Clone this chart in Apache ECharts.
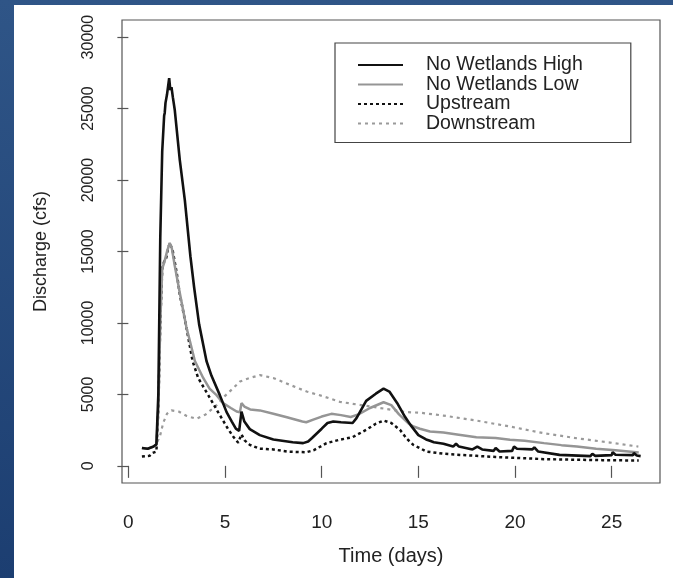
<!DOCTYPE html>
<html>
<head>
<meta charset="utf-8">
<script src="https://cdn.jsdelivr.net/npm/echarts@6/dist/echarts.min.js"></script>
<style>
    html, body {
        margin: 0;
        padding: 0;
        width: 673px;
        height: 578px;
        overflow: hidden;
        background: linear-gradient(180deg, #2f5587 0%, #1c3e71 100%);
    }
    .paper {
        position: absolute;
        left: 14px;
        top: 5px;
        right: 0;
        bottom: 0;
        background: #ffffff;
    }
    #chart {
        position: absolute;
        left: 0;
        top: 0;
        width: 673px;
        height: 578px;
    }
</style>
</head>
<body>
<div class="paper"></div>
<div id="chart"></div>
<script>
// No Wetlands High
var highX = [0.7, 1.0, 1.3, 1.45, 1.55, 1.65, 1.75, 1.85, 1.88, 1.92, 2.0, 2.11, 2.17, 2.23, 2.3, 2.4, 2.66, 2.92, 3.21, 3.4, 3.66, 4.04, 4.3, 4.73, 5.08, 5.35, 5.56, 5.73, 5.85, 6.0, 6.28, 6.8, 7.5, 8.5, 9.04, 9.3, 9.5, 10.0, 10.3, 10.6, 11.0, 11.6, 11.8, 12.3, 12.8, 13.2, 13.5, 13.9, 14.3, 14.6, 15.0, 15.4, 15.6, 15.7, 15.8, 16.3, 16.8, 16.95, 17.1, 17.8, 18.05, 18.3, 18.9, 19.0, 19.2, 19.85, 19.95, 20.1, 20.9, 21.0, 21.2, 22.3, 23.9, 24.0, 24.15, 25.0, 25.05, 25.2, 26.1, 26.15, 26.3, 26.5];
var highY = [1250, 1200, 1350, 1500, 5000, 16000, 22000, 24500, 24700, 25400, 26000, 27130, 26300, 26500, 25800, 24900, 21400, 18600, 14650, 12500, 9900, 7340, 6300, 4950, 3760, 3100, 2600, 2450, 3800, 3100, 2570, 2150, 1850, 1650, 1590, 1700, 1950, 2600, 3000, 3100, 3050, 3000, 3340, 4550, 5050, 5400, 5200, 4400, 3450, 2850, 2150, 1850, 1750, 1850, 1650, 1550, 1350, 1550, 1350, 1150, 1350, 1150, 1050, 1250, 1000, 1050, 1350, 1200, 1150, 1300, 1000, 770, 680, 850, 700, 750, 950, 780, 750, 900, 720, 680];

// No Wetlands Low
var lowX = [0.7, 1.0, 1.3, 1.45, 1.55, 1.65, 1.75, 1.85, 1.92, 2.0, 2.14, 2.25, 2.4, 2.66, 3.0, 3.44, 3.87, 4.2, 4.56, 4.9, 5.3, 5.6, 5.77, 5.85, 6.0, 6.3, 6.8, 7.5, 8.2, 9.0, 9.2, 9.6, 10.0, 10.5, 11.0, 11.5, 11.9, 12.5, 13.2, 13.6, 14.0, 14.5, 14.75, 15.08, 15.6, 16.3, 17.0, 18.0, 19.0, 19.74, 20.5, 21.5, 22.4, 23.2, 24.2, 25.2, 26.4];
var lowY = [1250, 1200, 1350, 1500, 4000, 10000, 13800, 14200, 14200, 15000, 15600, 15200, 14000, 12100, 9720, 7340, 6150, 5400, 4950, 4390, 4050, 3800, 3750, 4390, 4150, 3950, 3880, 3650, 3400, 3100, 3050, 3250, 3450, 3640, 3550, 3420, 3600, 4050, 4450, 4250, 3600, 2950, 2750, 2600, 2400, 2330, 2200, 2000, 1950, 1820, 1750, 1590, 1450, 1350, 1200, 1100, 930];

// Upstream
var upX = [0.7, 1.1, 1.25, 1.45, 1.55, 1.65, 1.75, 1.85, 1.95, 2.05, 2.15, 2.3, 2.5, 2.66, 3.0, 3.32, 3.61, 4.13, 4.64, 5.16, 5.45, 5.68, 5.75, 5.85, 6.0, 6.28, 6.8, 7.5, 8.2, 9.2, 9.6, 10.25, 10.9, 11.6, 12.3, 12.8, 13.2, 13.6, 14.05, 14.4, 14.74, 15.08, 15.42, 16.3, 17.0, 18.0, 19.0, 20.0, 21.5, 23.0, 24.5, 26.4];
var upY = [650, 700, 900, 1000, 4000, 10000, 13800, 14300, 14500, 15200, 15600, 15000, 13500, 12000, 9700, 7340, 6150, 4950, 3760, 2570, 2000, 1620, 1550, 2210, 1800, 1470, 1200, 1150, 1000, 950, 1100, 1590, 1820, 2010, 2520, 2950, 3170, 3000, 2520, 1900, 1470, 1240, 1000, 850, 780, 700, 620, 560, 470, 430, 400, 370];

// Downstream
var downX = [1.5, 1.63, 1.8, 2.0, 2.23, 2.6, 3.0, 3.52, 4.0, 4.56, 5.0, 5.42, 5.77, 6.28, 6.8, 7.49, 8.3, 9.22, 10.0, 10.94, 12.67, 14.39, 15.08, 16.29, 18.0, 19.74, 21.47, 23.2, 24.92, 26.38];
var downY = [1700, 2050, 3000, 3650, 3880, 3800, 3500, 3290, 3600, 4240, 4900, 5430, 5900, 6150, 6350, 6150, 5700, 5200, 4900, 4480, 4120, 3760, 3720, 3520, 3170, 2750, 2290, 1930, 1630, 1350];

var xTicks = [0, 5, 10, 15, 20, 25];
var yTicks = [0, 5000, 10000, 15000, 20000, 25000, 30000];
var seriesNames = ["No Wetlands High", "No Wetlands Low", "Upstream", "Downstream"];

function pairs(xs, ys) {
    return xs.map(function(x, i) {
        return [x, ys[i]];
    });
}

var myChart = echarts.init(document.getElementById("chart"));
var font = "Liberation Sans, Arial, sans-serif";

var option = {
    backgroundColor: "transparent",
    animation: false,
    textStyle: { fontFamily: font, color: "#222" },
    grid: {
        show: true,
        left: 122,
        top: 20,
        right: 13,
        bottom: 95,
        borderColor: "#555",
        borderWidth: 1.2,
        backgroundColor: "transparent"
    },
    legend: {
        orient: "vertical",
        left: 335,
        top: 43,
        padding: [12, 48, 9, 22],
        borderColor: "#444",
        borderWidth: 1.2,
        itemWidth: 45,
        itemHeight: 12,
        itemGap: -0.5,
        data: seriesNames,
        itemStyle: { opacity: 0 },
        textStyle: {
            fontFamily: font,
            fontSize: 19.5,
            lineHeight: 18,
            color: "#222",
            padding: [0, 0, 0, 18]
        }
    },
    xAxis: {
        type: "value",
        min: -0.33,
        max: 27.5,
        name: "Time (days)",
        nameLocation: "middle",
        nameGap: 63,
        nameTextStyle: { fontFamily: font, fontSize: 20, color: "#222" },
        splitLine: { show: false },
        axisLine: { show: false },
        axisTick: {
            show: true,
            length: 12,
            customValues: xTicks,
            lineStyle: { color: "#555", width: 1.2 }
        },
        axisLabel: {
            customValues: xTicks,
            margin: 30,
            fontSize: 19,
            color: "#222",
            fontFamily: font
        }
    },
    yAxis: {
        type: "value",
        min: -1200,
        max: 31200,
        name: "Discharge (cfs)",
        nameLocation: "middle",
        nameRotate: 90,
        nameGap: 72,
        nameTextStyle: { fontFamily: font, fontSize: 18, color: "#222" },
        splitLine: { show: false },
        axisLine: { show: false },
        axisTick: {
            show: true,
            length: 11,
            customValues: yTicks,
            lineStyle: { color: "#555", width: 1.2 }
        },
        axisLabel: {
            customValues: yTicks,
            rotate: 90,
            margin: 25,
            fontSize: 16,
            color: "#222",
            fontFamily: font,
            formatter: function(value) {
                return String(value);
            }
        }
    },
    series: [
        {
            name: "Downstream",
            type: "line",
            symbol: "none",
            data: pairs(downX, downY),
            lineStyle: { color: "#9a9a9a", width: 2.2, type: [3, 4] },
            itemStyle: { color: "#9a9a9a" }
        },
        {
            name: "Upstream",
            type: "line",
            symbol: "none",
            data: pairs(upX, upY),
            lineStyle: { color: "#111", width: 2.5, type: [3, 3] },
            itemStyle: { color: "#111" }
        },
        {
            name: "No Wetlands Low",
            type: "line",
            symbol: "none",
            data: pairs(lowX, lowY),
            lineStyle: { color: "#959595", width: 2.5 },
            itemStyle: { color: "#959595" }
        },
        {
            name: "No Wetlands High",
            type: "line",
            symbol: "none",
            data: pairs(highX, highY),
            lineStyle: { color: "#111", width: 2.6 },
            itemStyle: { color: "#111" }
        }
    ]
};

myChart.setOption(option);
</script>
</body>
</html>
